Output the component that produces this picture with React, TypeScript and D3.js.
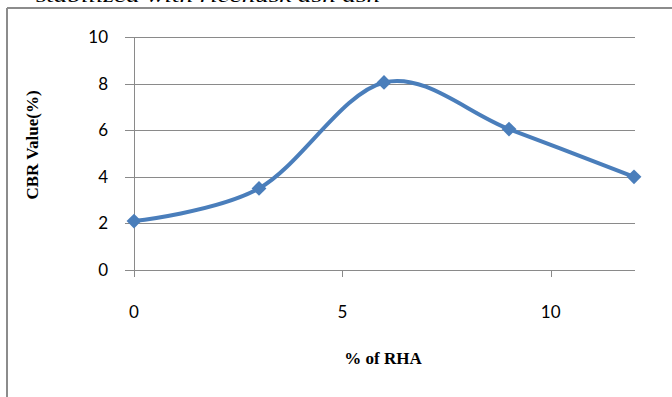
import React from "react";
import * as d3 from "d3";

const rhaPercent = [0, 3, 6, 9, 12];
const cbrValues = [2.1, 3.5, 8.05, 6.05, 4.0];
const xTicks = [0, 5, 10];
const yTicks = [0, 2, 4, 6, 8, 10];

const W = 672;
const H = 397;

export default function App() {
  const x = d3.scaleLinear().domain([0, 12]).range([134, 634]);
  const y = d3.scaleLinear().domain([0, 10]).range([270, 37]);

  const line = d3
    .line<number>()
    .x((_, i) => x(rhaPercent[i]))
    .y((d) => y(d))
    .curve(d3.curveCardinal.tension(0));

  const diamond = d3.symbol().type(d3.symbolDiamond2).size(140)();

  return (
    <svg
      width={W}
      height={H}
      style={{ position: "absolute", left: 0, top: 0, background: "#fff" }}
    >
      {/* caption line above the frame */}
      <text
        x={36}
        y={2}
        fontFamily="Liberation Serif"
        fontStyle="italic"
        fontSize={19}
        textLength={344}
        lengthAdjust="spacingAndGlyphs"
        fill="#000"
      >
        stabilized with ricehusk ash ash
      </text>

      {/* outer frame */}
      <line x1={7} x2={W} y1={8} y2={8} stroke="#8c8c8c" strokeWidth={2} />
      <line x1={7} x2={7} y1={8} y2={H} stroke="#8c8c8c" strokeWidth={2} />

      {/* horizontal gridlines and y ticks */}
      {yTicks.map((t) => (
        <g key={t}>
          <line
            x1={125}
            x2={635}
            y1={Math.round(y(t)) + 0.5}
            y2={Math.round(y(t)) + 0.5}
            stroke="#8a8a8a"
            strokeWidth={1}
          />
          <text
            x={108}
            y={y(t)}
            dy="0.35em"
            textAnchor="end"
            fontFamily="Lato, 'Open Sans', sans-serif"
            fontSize={17}
            fill="#000"
          >
            {t}
          </text>
        </g>
      ))}

      {/* y axis */}
      <line x1={134.5} x2={134.5} y1={37} y2={276} stroke="#8a8a8a" strokeWidth={1} />

      {/* x ticks */}
      {xTicks.map((t) => (
        <g key={t}>
          <line
            x1={Math.round(x(t)) + 0.5}
            x2={Math.round(x(t)) + 0.5}
            y1={270}
            y2={277}
            stroke="#8a8a8a"
            strokeWidth={1}
          />
          <text
            x={x(t)}
            y={312}
            dy="0.35em"
            textAnchor="middle"
            fontFamily="Lato, 'Open Sans', sans-serif"
            fontSize={17}
            fill="#000"
          >
            {t}
          </text>
        </g>
      ))}

      {/* axis titles */}
      <text
        x={383}
        y={364}
        textAnchor="middle"
        fontFamily="Liberation Serif"
        fontWeight="bold"
        fontSize={17}
        fill="#000"
      >
        % of RHA
      </text>
      <text
        transform="translate(38,145) rotate(-90)"
        textAnchor="middle"
        fontFamily="Liberation Serif"
        fontWeight="bold"
        fontSize={17}
        fill="#000"
      >
        CBR Value(%)
      </text>

      {/* series */}
      <path
        d={line(cbrValues) || ""}
        fill="none"
        stroke="#4a7ebb"
        strokeWidth={4}
        strokeLinejoin="round"
      />
      {cbrValues.map((v, i) => (
        <path
          key={i}
          d={diamond || ""}
          transform={`translate(${x(rhaPercent[i])},${y(v)})`}
          fill="#4a7ebb"
        />
      ))}
    </svg>
  );
}
